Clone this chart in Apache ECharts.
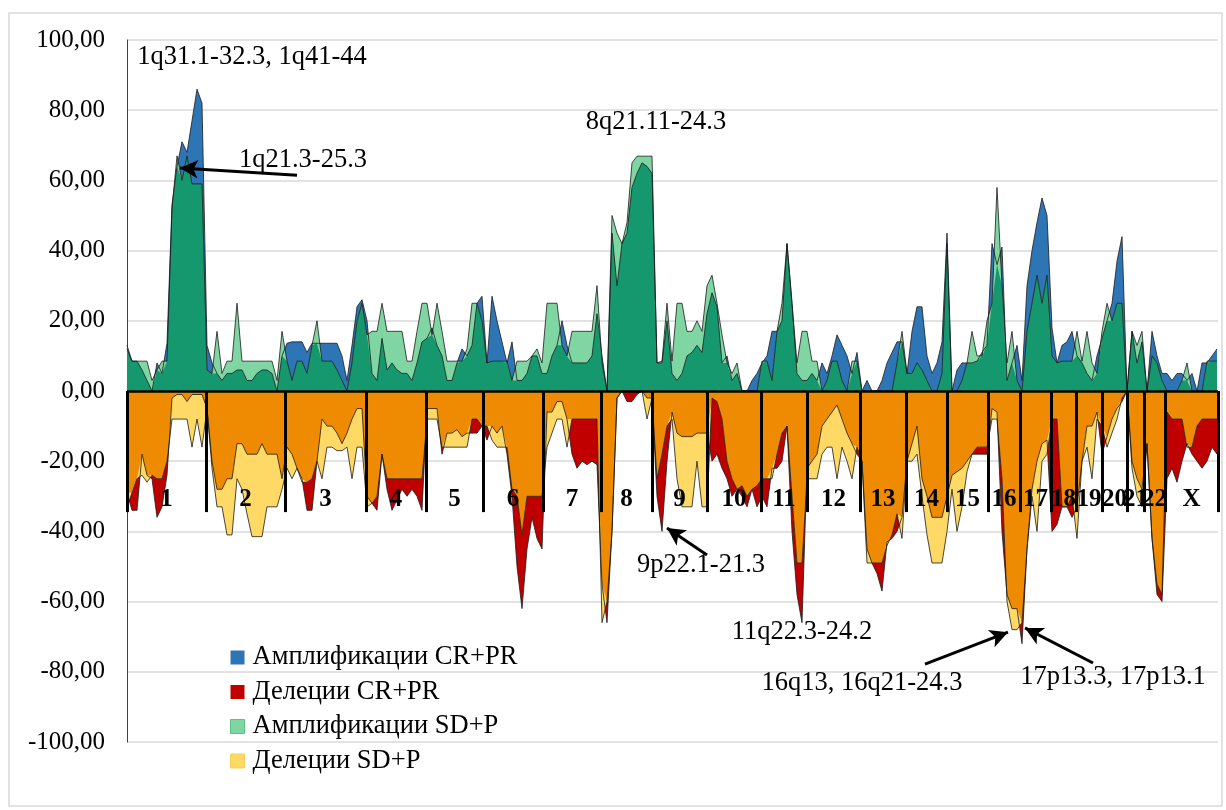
<!DOCTYPE html>
<html><head><meta charset="utf-8">
<script src="https://cdn.jsdelivr.net/npm/echarts@6/dist/echarts.min.js"></script>
<style>html,body{margin:0;padding:0;background:#fff}#c{width:1226px;height:810px}</style>
</head><body><div id="c"></div>
<script>
// Chromosomes and their boundaries (in genome bins)
const chromNames = ['1','2','3','4','5','6','7','8','9','10','11','12','13','14','15','16','17','18','19','20','21','22','X'];
const chromBounds = [0, 15.8, 31.6, 47.8, 59.8, 71.2, 83.2, 94.8, 105, 116, 126.8, 136, 146.6, 155.8, 164, 172.2, 178.6, 184.8, 189.8, 195, 200, 203.4, 207.6, 218.2];

// Amplifications CR+PR (%), one value per genome bin
const ampCR = [
 13,8.5,8.5,6,3,0,8,5,13.6,53,64,71,68,77,86,82,
 13,8,5,3,5,5,6,6,3,3,5,6,6,5,0,10,
 13.6,14,14,14,11,13.6,13.6,13.6,13.6,13.6,13.6,10,3,13,24,26,
 20,5,3,15,6,8,6,5,5,3,8,14,
 15,18,13,10,3,3,8,12,10,13,25,27,
 8,27,20,14,8,14,3,3,5,10,10,5,
 5,10,13,20,13,8,8,8,8,10,22,
 10,0,45,30,42,45,58,62,65,64,62,
 8,8,20,5,3,5,10,11,13,11,22,
 28,24,8,10,3,5,0,0,3,5,
 8,10,17,17,20,42,25,5,3,
 3,5,3,8,5,10,16,13,10,5,11,
 0,3,0,0,3,8,11,14,14,
 5,17,24,24,10,5,8,14,45,
 0,6,8,8,8,8.5,11,13,
 42,36,41,3,8,13,
 3,30,40,48,55,50,
 18,8,13,14,17,
 10,8,5,3,10,
 15,20,25,37,44,
 0,17,8,14,
 0,17,10,5,
 5,3,5,5,3,5,0,8,8,10,12
];
// Amplifications SD+P (%)
const ampSD = [
 12,8.5,8.5,8.5,8.5,3,6,8.5,8.5,52,67,60,67,59,59,59,
 6,5,17,5,8.5,8.5,25,8.5,8.5,8.5,8.5,8.5,8.5,8.5,3,17,
 8.5,3,8.5,8.5,5,13,20,8.5,8.5,8.5,6,3,0,8,20,25,
 16,17,17,25,17,17,17,17,8.5,8.5,17,25,
 25,16,25,17,8.5,8.5,8.5,8.5,12,25,25,20,
 8,8.5,8.5,8.5,8.5,3,8.5,8.5,8.5,10,12,8,
 25,25,25,13,10,17,17,17,17,17,30,
 8,0,50,45,42,48,65,66.9,66.9,66.9,66.9,
 8,8.5,25,8.5,25,25,17,17,20,17,30,
 33,25,16,8,5,8,0,0,0,0,
 8.5,8.5,3,17,25,42,25,8,17,
 17,8.5,8.5,0,3,8.5,8.5,3,0,8.5,8.5,
 0,0,0,0,0,0,0,8,17,
 5,5,8,6,3,0,0,5,42,
 0,0,3,8,17,10,10,20,
 25,58,30,8,17,3,
 0,17,25,33,25,33,
 10,8,8.5,8.5,8.5,
 17,8.5,17,8,5,
 17,25,20,25,25,
 0,17,13,17,
 0,10,8,3,
 0,0,0,3,8,0,0,0,8.5,8.5,8.5
];
// Deletions CR+PR (%)
const delCR = [
 -29,-34,-34,-18,-24,-25,-36,-33,-24,-2,-1,-1,-3,-1,-1,-1,
 -5,-20,-28,-28,-25,-25,-15,-15,-18,-18,-18,-15,-18,-18,-18,-25,
 -16,-18,-22,-25,-34,-34,-20,-8,-10,-10,-12,-15,-12,-8,-5,-5,
 -30,-32,-34,-18,-28,-34,-31,-28,-30,-28,-30,-34,
 -5,-5,-5,-18,-12,-12,-11,-13,-12,-12,-12,-10,
 -14,-10,-12,-10,-18,-30,-50,-62,-45,-36,-42,-45,
 -6,-6,-3,-3,-8,-18,-22,-20,-21,-20,-21,
 -55,-66,-40,-2,0,-3,-3,-1,0,-2,-2,
 -30,-40,-20,-6,-12,-13,-13,-13,-12,-12,-12,
 -20,-18,-22,-25,-30,-28,-30,-33,-28,-33,
 -30,-33,-22,-22,-20,-10,-40,-58,-66,
 -22,-20,-18,-10,-8,-6,-4,-8,-12,-15,-18,
 -20,-45,-49,-52,-57,-43,-42,-40,-36,
 -20,-15,-10,-25,-30,-36,-36,-36,-30,
 -24,-23,-22,-20,-18,-18,-18,-18,
 -5,-6,-40,-58,-62,-62,
 -72,-45,-28,-20,-15,-14,
 -40,-38,-33,-33,-36,
 -33,-20,-10,-10,-6,
 -18,-13,-8,-5,-3,
 0,-20,-25,-28,
 -15,-42,-58,-60,
 -25,-22,-26,-20,-15,-18,-20,-22,-20,-16,-18
];
// Deletions SD+P (%)
const delSD = [
 -33,-29,-25,-24,-26,-24,-25,-25,-20,-8,-8,-8,-8,-16,-8,-16,
 -5,-22,-33,-33,-41,-41,-25,-28,-35,-41.5,-41.5,-41.5,-33,-33,-33,-28,
 -22,-25,-22,-26,-26,-25,-20,-25,-16,-16,-17,-17,-16,-25,-16,-16,
 -33,-32,-30,-18,-25,-25,-25,-25,-25,-25,-25,-25,
 -8,-8,-8,-16,-16,-16,-16,-16,-16,-8,-8,-10,
 -10,-14,-16,-16,-16,-28,-30,-41,-30,-30,-30,-30,
 -16,-12,-8,-8,-16,-8,-8,-8,-8,-8,-8,
 -66,-60,-40,-2,0,0,0,0,0,-8,-2,
 -25,-18,-10,-8,-25,-33,-33,-33,-20,-33,-33,
 -2,-3,-8,-20,-25,-28,-27,-30,-28,-27,
 -25,-25,-25,-18,-12,-10,-30,-49,-49,
 -25,-25,-25,-18,-16,-16,-25,-16,-20,-25,-16,
 -20,-49,-49,-49,-49,-44,-41,-35,-42,
 -20,-20,-18,-30,-41,-49,-49,-49,-40,
 -28,-40,-33,-23,-18,-16,-16,-16,
 -8,-8,-25,-60,-68,-68,
 -66,-45,-30,-40,-20,-18,
 -8,-8,-33,-33,-30,
 -42,-20,-16,-25,-8,
 -10,-16,-12,-8,-2,
 0,-22,-30,-33,
 -15,-42,-55,-58,
 -6,-8,-8,-8,-16,-16,-10,-8,-8,-8,-8
];

const seriesNames = ['Амплификации CR+PR','Делеции CR+PR','Амплификации SD+P','Делеции SD+P'];
const annotationTexts = ['1q31.1-32.3, 1q41-44','1q21.3-25.3','8q21.11-24.3','9p22.1-21.3','11q22.3-24.2','16q13, 16q21-24.3','17p13.3, 17p13.1'];

// ---------- build ----------
const FONT = 'Liberation Serif';
const C = {blue:'#2E75B6', green:'#80D6A3', dgreen:'#15986E', red:'#C00000', yellow:'#FFD966', orange:'#EF8A03'};
const pts = a => a.map((v,i)=>[i,v]);
const ampOverlap = ampCR.map((v,i)=>Math.min(v, ampSD[i]));
const delOverlap = delCR.map((v,i)=>Math.max(v, delSD[i]));
const fill = (name, arr, color) => ({
  type:'line', name, data:pts(arr), symbol:'none', silent:true, animation:false,
  lineStyle:{width:0, opacity:0}, areaStyle:{color, opacity:1}, itemStyle:{color}
});
const outline = (arr) => ({
  type:'line', data:pts(arr), symbol:'none', silent:true, animation:false,
  lineStyle:{width:1, color:'#1c1c1c', opacity:0.8}
});
const xMax = chromBounds[chromBounds.length-1];
const centers = chromNames.map((n,i)=>[(chromBounds[i]+chromBounds[i+1])/2, -31]);
const annPos = [[25,95.2],[35.2,65.8],[105.8,76.6],[114.8,-49.6],[135,-68.7],[147,-83.2],[197.2,-81.5]];
const arrows = [[[34,61.5],[10.6,63.5]],[[116,-46.7],[108,-39]],[[159.6,-77.8],[176.2,-68.7]],[[193.2,-77.5],[179.6,-67.5]]];

const textSeries = (points, texts, font) => ({
  type:'custom', silent:true, z:30, animation:false, clip:false,
  data: points,
  renderItem:(params, api)=>{
    const p = api.coord([api.value(0), api.value(1)]);
    return {type:'text', x:p[0], y:p[1], z2:100,
      style:{text:texts[params.dataIndex], font, fill:'#000', align:'center', verticalAlign:'middle'}};
  }
});

const chart = echarts.init(document.getElementById('c'), null, {renderer:'canvas'});
chart.setOption({
  animation:false,
  backgroundColor:'#fff',
  graphic:[{type:'rect', shape:{x:9,y:13,width:1213,height:793}, style:{fill:'none', stroke:'#d9d9d9', lineWidth:1.5}, silent:true, z:-1}],
  grid:{left:127, right:8, top:40, bottom:68, outerBoundsMode:'none', containLabel:false},
  legend:{
    orient:'vertical', left:225, top:639, itemGap:7.5, itemWidth:14, itemHeight:14, icon:'rect',
    textStyle:{fontFamily:FONT, fontSize:26.5, color:'#000', padding:[0,0,0,3]},
    data:[
      {name:seriesNames[0], itemStyle:{color:C.blue}},
      {name:seriesNames[1], itemStyle:{color:C.red}},
      {name:seriesNames[2], itemStyle:{color:C.green, borderColor:'#5cc088', borderWidth:1}},
      {name:seriesNames[3], itemStyle:{color:C.yellow, borderColor:'#f3cf60', borderWidth:1}}
    ],
    selectedMode:false
  },
  xAxis:{type:'value', min:0, max:xMax, show:false},
  yAxis:{
    type:'value', min:-100, max:100, interval:20,
    axisLine:{show:true, lineStyle:{color:'#404040', width:1}},
    axisTick:{show:false},
    axisLabel:{fontFamily:FONT, fontSize:25, color:'#000', margin:22, formatter:v=>v.toFixed(2).replace('.',',')},
    splitLine:{lineStyle:{color:'#d9d9d9', width:1.5}}
  },
  series:[
    fill(seriesNames[0], ampCR, C.blue),
    fill(seriesNames[2], ampSD, C.green),
    fill('ampOverlap', ampOverlap, C.dgreen),
    fill(seriesNames[1], delCR, C.red),
    fill(seriesNames[3], delSD, C.yellow),
    fill('delOverlap', delOverlap, C.orange),
    outline(ampCR), outline(ampSD), outline(delCR), outline(delSD),
    {
      type:'scatter', data:[], symbolSize:0, silent:true, z:20,
      markLine:{
        silent:true, symbol:['none','none'], label:{show:false}, animation:false,
        lineStyle:{color:'#000', width:3, type:'solid'},
        data: chromBounds.map(b=>[{coord:[b,0]},{coord:[b,-34.5]}])
          .concat([[{coord:[0,0],lineStyle:{width:2.5}},{coord:[xMax,0]}]])
      }
    },
    {
      type:'scatter', data:[], symbolSize:0, silent:true, z:20,
      markLine:{
        silent:true, symbol:['none','arrow'], symbolSize:[14,18], label:{show:false}, animation:false,
        lineStyle:{color:'#000', width:3, type:'solid'},
        data: arrows.map(a=>[{coord:a[0]},{coord:a[1]}])
      }
    },
    textSeries(centers, chromNames, 'bold 25px "Liberation Serif"'),
    textSeries(annPos, annotationTexts, '26.5px "Liberation Serif"')
  ]
});
</script></body></html>
